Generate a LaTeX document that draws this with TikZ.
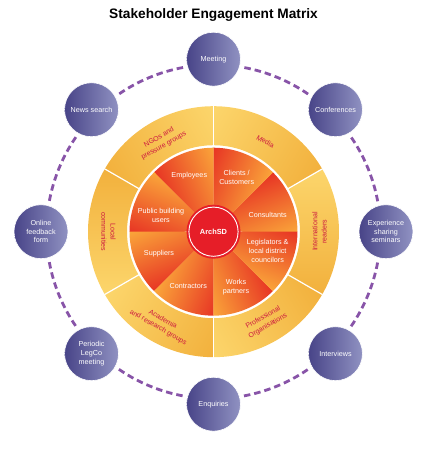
\documentclass[tikz,border=0pt]{standalone}
\usepackage{fontspec}
\setmainfont{Liberation Sans}
\usetikzlibrary{calc}
\definecolor{wred}{RGB}{231,52,36}
\definecolor{worange}{RGB}{250,166,58}
\definecolor{rgold}{RGB}{242,176,60}
\definecolor{rlight}{RGB}{252,214,108}
\definecolor{ringtxt}{RGB}{204,24,64}
\definecolor{satdark}{RGB}{72,68,136}
\definecolor{satlight}{RGB}{144,146,194}
\definecolor{dashpurple}{RGB}{136,84,168}
\definecolor{archred}{RGB}{230,30,40}
\begin{document}
\begin{tikzpicture}[x=1pt,y=1pt,
  sat/.style={circle, minimum size=54pt, inner sep=0pt, left color=satdark, right color=satlight,
    draw=white, line width=0.6pt, text=white, font=\fontsize{7.2}{8.6}\selectfont, align=center},
  wlabel/.style={text=white, font=\fontsize{7.2}{9}\selectfont, align=center, inner sep=0pt},
  rlabel/.style={text=ringtxt, font=\fontsize{7}{9.4}\selectfont, align=center, inner sep=0pt},
  dashline/.style={draw=dashpurple, line width=2.8pt, dash pattern=on 6.5pt off 4pt},
  sepline/.style={draw=white, line width=1.2pt},
]
\useasboundingbox (0,0) rectangle (425,451);
\coordinate (C) at (213.5,219.3);

% title
\node[font=\bfseries\fontsize{13.7}{16}\selectfont, inner sep=0pt] (title) at (213.5,436.5) {Stakeholder Engagement Matrix};

% outer ring segments
\foreach \a/\ct/\cb in {120/rgold/rlight, 60/rlight/rgold, 0/rlight/rgold, -60/rgold/rlight, -120/rgold/rlight, 180/rlight/rgold} {
  \begin{scope}[transform canvas={shift={(213.5,219.3)}, rotate=\a}]
    \clip (-30.1:86.5) arc[start angle=-30.1, end angle=30.1, radius=86.5]
      -- (30.1:125.5) arc[start angle=30.1, end angle=-30.1, radius=125.5] -- cycle;
    \shade[top color=\ct, bottom color=\cb] (70,-64) rectangle (127,64);
  \end{scope}
}
\foreach \a in {30,90,...,330} {
  \draw[sepline] ($(C)+(\a:86)$) -- ($(C)+(\a:126)$);
}

% inner wheel wedges
\foreach \a in {22.5,67.5,...,337.5} {
  \begin{scope}[transform canvas={shift={(213.5,219.3)}, rotate=\a}]
    \clip (0,0) -- (-22.6:84) arc[start angle=-22.6, end angle=22.6, radius=84] -- cycle;
    \shade[top color=wred, bottom color=worange] (0,-32.5) rectangle (85,32.5);
  \end{scope}
}

% centre
\node[circle, fill=archred, minimum size=54pt, inner sep=0pt, text=white,
  font=\bfseries\fontsize{7.4}{8}\selectfont] (arch) at (C) {ArchSD};
\draw[white, line width=0.9pt] (arch.center) circle[radius=24.6];

% wheel labels
\node[wlabel] (emp) at (189.3,275) {Employees};
\node[wlabel] (cli) at (236.7,273.3) {Clients /\\Customers};
\node[wlabel] (con) at (267.7,236) {Consultants};
\node[wlabel] (leg) at (267.7,200) {Legislators \&\\local district\\councilors};
\node[wlabel] (wor) at (236,164.3) {Works\\partners};
\node[wlabel] (ctr) at (188.3,165.3) {Contractors};
\node[wlabel] (sup) at (159,197.7) {Suppliers};
\node[wlabel] (pub) at (161,235.3) {Public building\\users};

% ring labels
\node[rlabel, rotate=30] (ngo) at ($(C)+(120:104)$) {NGOs and\\pressure groups};
\node[rlabel, rotate=-30] (med) at ($(C)+(60:104)$) {Media};
\node[rlabel, rotate=90] (int) at ($(C)+(0:106)$) {International\\readers};
\node[rlabel, rotate=30] (pro) at ($(C)+(-60:104)$) {Professional\\Organisations};
\node[rlabel, rotate=-30] (aca) at ($(C)+(-120:106)$) {Academia\\and research groups};
\node[rlabel, rotate=-90] (loc) at ($(C)+(180:105)$) {Local\\communities};

% satellites
\node[sat] (s90)  at ($(C)+(90:172.5)$)  {Meeting};
\node[sat] (s45)  at ($(C)+(45:172.5)$)  {Conferences};
\node[sat] (s0)   at ($(C)+(0:172.5)$)   {Experience\\sharing\\seminars};
\node[sat] (s315) at ($(C)+(-45:172.5)$) {Interviews};
\node[sat] (s270) at ($(C)+(-90:172.5)$) {Enquiries};
\node[sat] (s225) at ($(C)+(-135:172.5)$) {Periodic\\LegCo\\meeting};
\node[sat] (s180) at ($(C)+(180:172.5)$) {Online\\feedback\\form};
\node[sat] (s135) at ($(C)+(135:172.5)$) {News search};

% dashed connectors between satellites
\foreach \k in {0,45,...,315} {
  \pgfmathsetmacro{\sa}{\k+10.5}
  \pgfmathsetmacro{\ea}{\k+34.5}
  \coordinate (d\k) at ($(C)+(\sa:167)$);
  \draw[dashline] (d\k) arc[start angle=\sa, end angle=\ea, radius=167];
}
\end{tikzpicture}
\end{document}
